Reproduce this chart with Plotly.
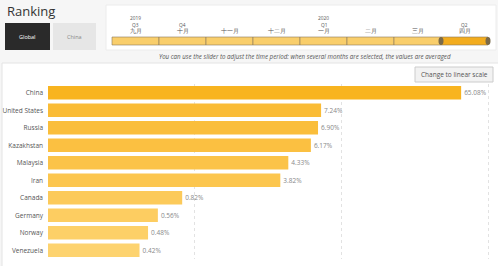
import plotly.graph_objects as go

# Share of total by country (%), sorted descending
countries = ["China", "United States", "Russia", "Kazakhstan", "Malaysia",
             "Iran", "Canada", "Germany", "Norway", "Venezuela"]
shares = [65.08, 7.24, 6.90, 6.17, 4.33, 3.82, 0.82, 0.56, 0.48, 0.42]
bar_colors = ["#F8B420", "#FABC36", "#FABE3B", "#FBC041", "#FBC348",
              "#FCC64E", "#FCCA5A", "#FDCD61", "#FDD068", "#FDD36F"]

# Time-period slider
months = ["九月", "十月", "十一月", "十二月", "一月", "二月", "三月", "四月"]
quarters = ["Q3", "Q4", "", "", "Q1", "", "", "Q2"]
years = ["2019", "", "", "", "2020", "", "", ""]
selected_month = "四月"

W, H = 498, 266
PL, PR, PT, PB = 48, 8, 84, 7
pw, ph = W - PL - PR, H - PT - PB


def px(x):
    return (x - PL) / pw


def py(y):
    return 1 - (y - PT) / ph


def label(text, x, y, size, color, xanchor="center"):
    return dict(text=text, xref="paper", yref="paper", x=px(x), y=py(y),
                xanchor=xanchor, yanchor="middle", showarrow=False,
                font=dict(size=size, color=color))


fig = go.Figure()
fig.add_trace(go.Bar(
    y=countries, x=shares, orientation="h",
    marker=dict(color=bar_colors, line=dict(width=0)),
    width=0.76,
    text=[f"{v:.2f}%" for v in shares], textposition="outside",
    textfont=dict(size=6.5, color="#888888"),
    cliponaxis=False, hoverinfo="skip",
))

shapes = []
annotations = []

# chart panel and top bar
shapes.append(dict(type="rect", xref="paper", yref="paper",
                   x0=px(2), x1=px(W + 2), y0=py(H + 2), y1=py(63),
                   fillcolor="white", line=dict(color="#e4e4e4", width=1), layer="below"))
shapes.append(dict(type="rect", xref="paper", yref="paper",
                   x0=px(106), x1=px(496), y0=py(50), y1=py(5),
                   fillcolor="white", line=dict(color="#ececec", width=1), layer="below"))

annotations.append(label("Ranking", 5, 11, 13, "#333333", xanchor="left"))

# Global / China toggle
shapes.append(dict(type="rect", xref="paper", yref="paper",
                   x0=px(5), x1=px(50), y0=py(50), y1=py(23),
                   fillcolor="#2a2a2a", line=dict(width=0)))
shapes.append(dict(type="rect", xref="paper", yref="paper",
                   x0=px(53), x1=px(96), y0=py(50), y1=py(23),
                   fillcolor="#e6e6e6", line=dict(width=0)))
annotations.append(label("Global", 27.5, 37, 5.5, "white"))
annotations.append(label("China", 74.5, 37, 5.5, "#888888"))

# slider track
sx0, sx1 = 112, 488
seg = (sx1 - sx0) / len(months)
for i, m in enumerate(months):
    a, b = sx0 + i * seg, sx0 + (i + 1) * seg
    sel = m == selected_month
    shapes.append(dict(type="rect", xref="paper", yref="paper",
                       x0=px(a), x1=px(b), y0=py(45), y1=py(37),
                       fillcolor="#F2AC1E" if sel else "#F9CE6B",
                       line=dict(color="#8a7a5a", width=0.6)))
    cx = (a + b) / 2
    annotations.append(label(m, cx, 31.5, 5.5, "#555555"))
    if quarters[i]:
        annotations.append(label(quarters[i], cx, 25, 4.8, "#555555"))
    if years[i]:
        annotations.append(label(years[i], cx, 18.5, 4.8, "#555555"))
    if sel:
        for hx in (a, b):
            shapes.append(dict(type="path", xref="paper", yref="paper",
                               path=(f"M {px(hx - 2.5)},{py(41)} "
                                     f"Q {px(hx - 2.5)},{py(37)} {px(hx)},{py(37)} "
                                     f"Q {px(hx + 2.5)},{py(37)} {px(hx + 2.5)},{py(41)} "
                                     f"Q {px(hx + 2.5)},{py(45)} {px(hx)},{py(45)} "
                                     f"Q {px(hx - 2.5)},{py(45)} {px(hx - 2.5)},{py(41)} Z"),
                               fillcolor="#7a6a4a", line=dict(width=0)))

annotations.append(label(
    "<i>You can use the slider to adjust the time period: when several months are selected, the values are averaged</i>",
    305, 57, 6.2, "#555555"))

# scale toggle button
shapes.append(dict(type="rect", xref="paper", yref="paper",
                   x0=px(415), x1=px(493), y0=py(82), y1=py(67),
                   fillcolor="#f2f2f2", line=dict(color="#cccccc", width=1)))
annotations.append(label("Change to linear scale", 454, 74.5, 6.5, "#555555"))

fig.update_layout(
    width=W, height=H,
    margin=dict(l=PL, r=PR, t=PT, b=PB, pad=0, autoexpand=False),
    paper_bgcolor="#f6f6f6", plot_bgcolor="white",
    font=dict(family="Open Sans, sans-serif"),
    showlegend=False, bargap=0.24,
    shapes=shapes, annotations=annotations,
    xaxis=dict(type="log", range=[-1, 2.01], showticklabels=False, ticks="",
               showgrid=True, gridcolor="#e2e2e2", griddash="dot", gridwidth=1,
               tickvals=[1, 10, 100], zeroline=False, showline=False,
               fixedrange=True, automargin=False),
    yaxis=dict(autorange="reversed", showgrid=False, ticks="", ticklen=0,
               tickfont=dict(size=6.5, color="#555555"), ticklabelstandoff=4,
               showline=False, zeroline=False, fixedrange=True, automargin=False),
)

fig.write_html("out.html", config={"displayModeBar": False})
